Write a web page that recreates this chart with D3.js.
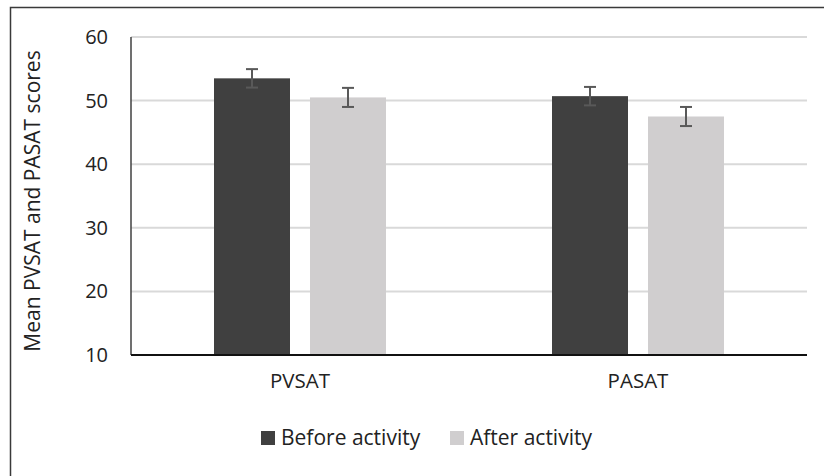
<!DOCTYPE html>
<html><head><meta charset="utf-8">
<script src="https://cdn.jsdelivr.net/npm/d3@7"></script>
<style>body{margin:0;background:#fff}svg{display:block}</style>
</head><body>
<svg id="c" width="824" height="476"></svg>
<script>
const categories = ["PVSAT", "PASAT"];
const seriesNames = ["Before activity", "After activity"];
const beforeValues = [53.5, 50.7];
const afterValues = [50.5, 47.5];
const beforeErrors = [1.45, 1.45];
const afterErrors = [1.5, 1.5];
const yTicks = [10, 20, 30, 40, 50, 60];
const colors = ["#404040", "#d0cecf"];

const svg = d3.select("#c");
const font = "'Open Sans', 'Liberation Sans', sans-serif";
const m = {l: 131, r: 807, t: 37, b: 355};

// frame
svg.append("path").attr("d", "M10.5,476 V7.5 H824").attr("fill", "none").attr("stroke", "#3a3a3a").attr("stroke-width", 1.5);

const y = d3.scaleLinear().domain([10, 60]).range([m.b, m.t]);
const x0 = d3.scaleBand().domain(categories).range([m.l, m.r]);
const x1 = d3.scaleBand().domain(seriesNames).range([0, 172]).paddingInner(20/96);

// gridlines
svg.append("g").selectAll("line").data(yTicks.filter(t => t > 10)).join("line")
  .attr("x1", m.l).attr("x2", m.r).attr("y1", d => y(d)).attr("y2", d => y(d))
  .attr("stroke", "#d9d9d9").attr("stroke-width", 2);

// y axis labels
const yAxis = d3.axisLeft(y).tickValues(yTicks).tickSize(0).tickPadding(23);
const ga = svg.append("g").attr("transform", `translate(${m.l},0)`).call(yAxis);
ga.select(".domain").remove();
ga.selectAll("text").attr("font-family", font).attr("font-size", 20).attr("fill", "#222");

const data = categories.map((c, i) => ({c, vals: [
  {s: seriesNames[0], v: beforeValues[i], e: beforeErrors[i], col: colors[0]},
  {s: seriesNames[1], v: afterValues[i], e: afterErrors[i], col: colors[1]}]}));

const groups = svg.append("g").selectAll("g").data(data).join("g")
  .attr("transform", d => `translate(${x0(d.c) + (x0.bandwidth() - 172) / 2},0)`);
groups.selectAll("rect").data(d => d.vals).join("rect")
  .attr("x", d => x1(d.s)).attr("width", x1.bandwidth())
  .attr("y", d => y(d.v)).attr("height", d => y(10) - y(d.v))
  .attr("fill", d => d.col);
const eb = groups.selectAll("g.eb").data(d => d.vals).join("g").attr("class", "eb")
  .attr("stroke", "#595959").attr("stroke-width", 2);
eb.append("line").attr("x1", d => x1(d.s) + x1.bandwidth()/2).attr("x2", d => x1(d.s) + x1.bandwidth()/2)
  .attr("y1", d => y(d.v + d.e)).attr("y2", d => y(d.v - d.e));
eb.append("line").attr("x1", d => x1(d.s) + x1.bandwidth()/2 - 6).attr("x2", d => x1(d.s) + x1.bandwidth()/2 + 6)
  .attr("y1", d => y(d.v + d.e)).attr("y2", d => y(d.v + d.e));
eb.append("line").attr("x1", d => x1(d.s) + x1.bandwidth()/2 - 6).attr("x2", d => x1(d.s) + x1.bandwidth()/2 + 6)
  .attr("y1", d => y(d.v - d.e)).attr("y2", d => y(d.v - d.e));

// axes lines
svg.append("line").attr("x1", m.l).attr("x2", m.l).attr("y1", m.t).attr("y2", m.b).attr("stroke", "#404040").attr("stroke-width", 1.5);
svg.append("line").attr("x1", m.l).attr("x2", m.r).attr("y1", m.b).attr("y2", m.b).attr("stroke", "#111").attr("stroke-width", 2);

// x labels
const xAxis = d3.axisBottom(x0).tickSize(0).tickPadding(18);
const gx = svg.append("g").attr("transform", `translate(0,${m.b})`).call(xAxis);
gx.select(".domain").remove();
gx.selectAll("text").attr("font-family", font).attr("font-size", 20.5).attr("fill", "#222");

// y title
svg.append("text").attr("transform", "translate(40,201) rotate(-90)").attr("text-anchor", "middle")
  .attr("font-family", font).attr("font-size", 21).attr("fill", "#222").text("Mean PVSAT and PASAT scores");

// legend
const legX = [261, 450];
const lg = svg.append("g").selectAll("g").data(seriesNames).join("g")
  .attr("transform", (d, i) => `translate(${legX[i]},431)`);
lg.append("rect").attr("width", 14).attr("height", 14).attr("fill", (d, i) => colors[i]);
lg.append("text").attr("x", 20).attr("y", 14).attr("font-family", font).attr("font-size", 21).attr("fill", "#222").text(d => d);
</script>
</body></html>
